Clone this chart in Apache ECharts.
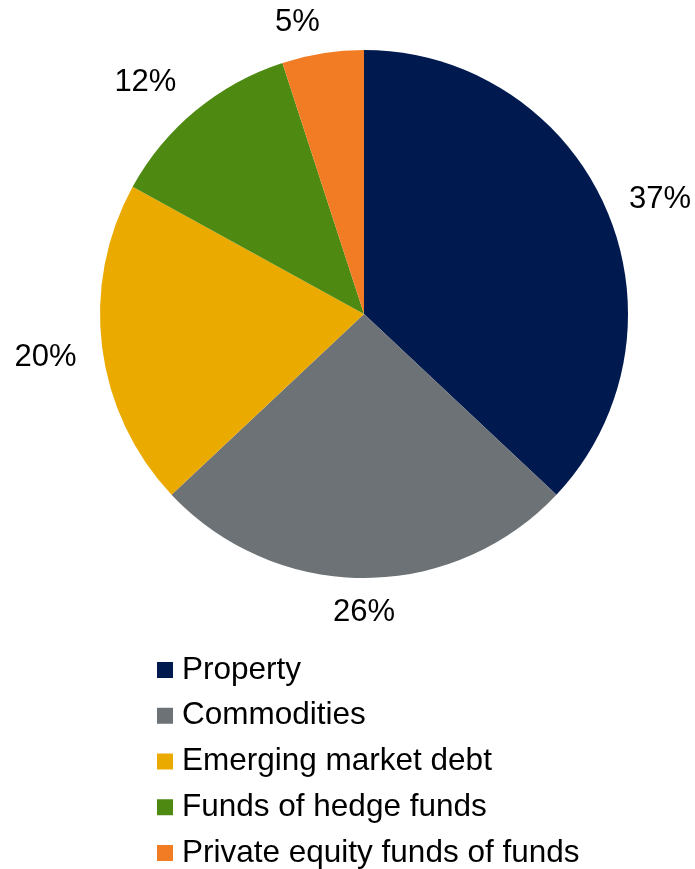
<!DOCTYPE html>
<html>
<head>
<meta charset="utf-8">
<script src="https://cdn.jsdelivr.net/npm/echarts@6/dist/echarts.min.js"></script>
<style>
  html, body { margin: 0; padding: 0; background: #ffffff; }
  #chart { width: 695px; height: 869px; }
</style>
</head>
<body>
<div id="chart"></div>
<script>
// Asset allocation shares (percent)
const categories = [
  'Property',
  'Commodities',
  'Emerging market debt',
  'Funds of hedge funds',
  'Private equity funds of funds'
];
const shares = [37, 26, 20, 12, 5];
const colors = ['#001A50', '#6C7275', '#EAAA00', '#4E8A12', '#F27C24'];

const FONT = '"Liberation Sans", Arial, sans-serif';
const CENTER = [364, 314];
const R = 264;

// Horizontal padding and vertical offset per percentage label, easing each one towards its slice edge
const labelPadding = [
  [0, 0, 0, 23],
  [0, 0, 0, 0],
  [0, 22, 0, 0],
  [0, 42, 0, 0],
  [0, 36, 0, 0]
];
const labelOffset = [
  [0, 9],
  [0, -12],
  [0, 5],
  [0, 7],
  [0, 15]
];

const sliceData = categories.map((name, i) => ({
  name: name,
  value: shares[i],
  itemStyle: { color: colors[i] }
}));

// Transparent outer ring carrying the percentage labels
const labelData = categories.map((name, i) => ({
  name: name,
  value: shares[i],
  label: { padding: labelPadding[i], offset: labelOffset[i] }
}));

const chart = echarts.init(document.getElementById('chart'), null, { renderer: 'canvas' });
chart.setOption({
  animation: false,
  backgroundColor: '#ffffff',
  legend: {
    orient: 'vertical',
    left: 157,
    top: 654,
    height: 230,
    padding: 0,
    data: categories,
    itemWidth: 16,
    itemHeight: 16,
    itemGap: 13.75,
    icon: 'rect',
    selectedMode: false,
    textStyle: {
      fontFamily: FONT, fontSize: 31.5, color: '#000000', lineHeight: 31.5,
      padding: [0, 0, 0, 4]
    }
  },
  series: [
    {
      type: 'pie',
      center: CENTER,
      radius: [0, R],
      startAngle: 90,
      clockwise: true,
      data: sliceData,
      label: { show: false },
      labelLine: { show: false },
      emphasis: { disabled: true },
      itemStyle: { borderWidth: 0 }
    },
    {
      type: 'pie',
      center: CENTER,
      radius: [R, 350],
      startAngle: 90,
      clockwise: true,
      silent: true,
      data: labelData,
      itemStyle: { color: 'rgba(0,0,0,0)', borderWidth: 0 },
      label: {
        show: true,
        position: 'inside',
        formatter: p => p.value + '%',
        fontFamily: FONT,
        fontSize: 31,
        color: '#000000'
      },
      labelLine: { show: false },
      emphasis: { disabled: true }
    }
  ]
});
</script>
</body>
</html>
